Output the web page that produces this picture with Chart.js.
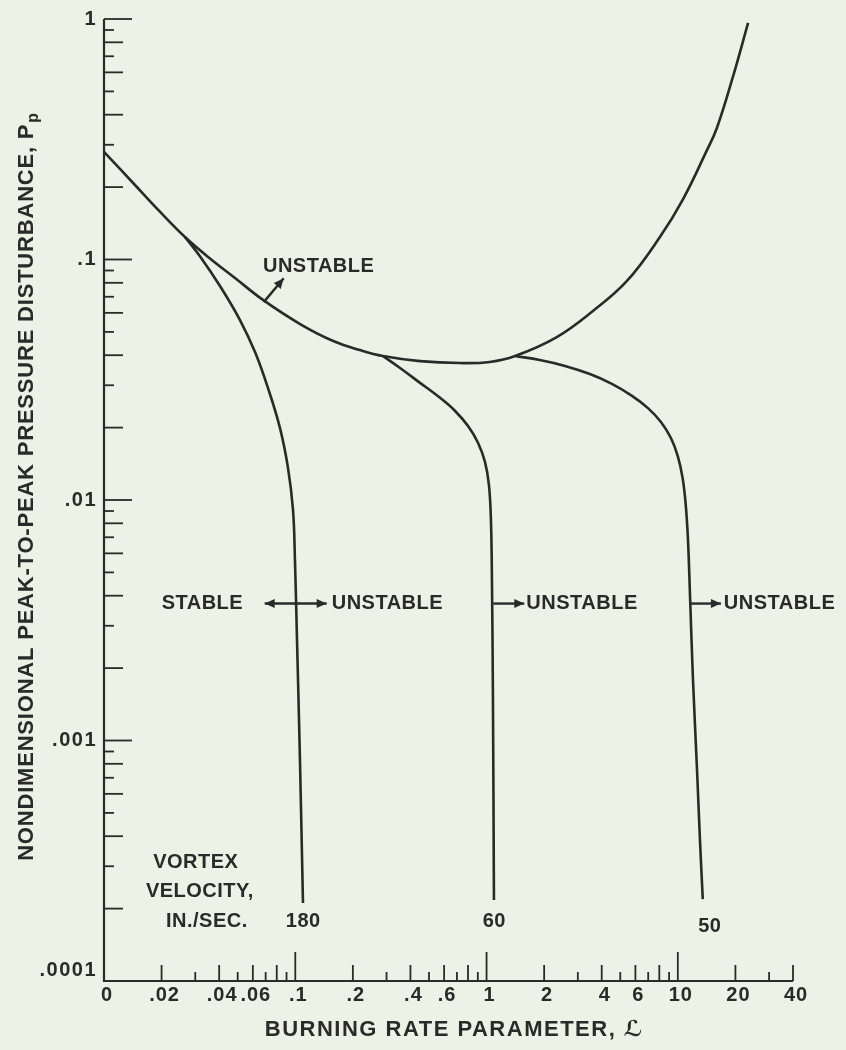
<!DOCTYPE html>
<html>
<head>
<meta charset="utf-8">
<script src="https://cdn.jsdelivr.net/npm/chart.js@4"></script>
<style>
  html, body { margin: 0; padding: 0; background: #eef1e5; }
  #wrap { width: 846px; height: 1050px; }
</style>
</head>
<body>
<div id="wrap"><canvas id="myChart"></canvas></div>
<script>
// Courbe enveloppe (limite de stabilité)
const envelopeX = [0.01, 0.0142, 0.0196, 0.0265, 0.0358, 0.0484, 0.0678, 0.106, 0.158, 0.218, 0.287, 0.449, 0.726, 1.04, 1.41, 2.33, 3.60, 5.42, 8.06, 10.6, 14.2, 16.0, 19.4, 23.3];
const envelopeY = [0.280, 0.208, 0.158, 0.124, 0.101, 0.0838, 0.0679, 0.0539, 0.0458, 0.0420, 0.0397, 0.0378, 0.0371, 0.0375, 0.0397, 0.0476, 0.0611, 0.0814, 0.124, 0.177, 0.285, 0.352, 0.574, 0.963];

// Vitesse du tourbillon 180 in./sec
const v180X = [0.0265, 0.0318, 0.0404, 0.0514, 0.0616, 0.0720, 0.0832, 0.0916, 0.0973, 0.0996, 0.1021, 0.1058, 0.1097];
const v180Y = [0.124, 0.103, 0.0776, 0.0560, 0.0412, 0.0292, 0.0199, 0.0136, 0.00909, 0.00563, 0.00262, 0.00083, 0.000211];

// 60 in./sec
const v60X = [0.287, 0.353, 0.449, 0.571, 0.683, 0.800, 0.902, 0.981, 1.029, 1.054, 1.067, 1.080, 1.093];
const v60Y = [0.0397, 0.0354, 0.0307, 0.0266, 0.0235, 0.0203, 0.0173, 0.0144, 0.01155, 0.00826, 0.00465, 0.00147, 0.000217];

// 50 in./sec
const v50X = [1.41, 1.90, 2.57, 3.47, 4.52, 5.76, 6.98, 8.16, 9.20, 10.0, 10.6, 11.0, 11.3, 11.6, 12.0, 12.6, 13.05, 13.5];
const v50Y = [0.0397, 0.0382, 0.0361, 0.0334, 0.0304, 0.0271, 0.0241, 0.0211, 0.0181, 0.0152, 0.0123, 0.00953, 0.00682, 0.00384, 0.00179, 0.000754, 0.000386, 0.000219];

// Graduations
const xTickValues = [0.01, 0.02, 0.04, 0.06, 0.1, 0.2, 0.4, 0.6, 1, 2, 4, 6, 10, 20, 40];
const xTickLabels = ["0", ".02", ".04", ".06", ".1", ".2", ".4", ".6", "1", "2", "4", "6", "10", "20", "40"];
const yTickValues = [1, 0.1, 0.01, 0.001, 0.0001];
const yTickLabels = ["1", ".1", ".01", ".001", ".0001"];

// Textes posés sur le graphique (coordonnées en données)
const notes = [
  { text: "UNSTABLE", x: 0.1325, y: 0.0937, align: "center" },
  { text: "STABLE", x: 0.0327, y: 0.00371, align: "center" },
  { text: "UNSTABLE", x: 0.155, y: 0.00371, align: "left" },
  { text: "UNSTABLE", x: 1.614, y: 0.00371, align: "left" },
  { text: "UNSTABLE", x: 17.4, y: 0.00371, align: "left" },
  { text: "VORTEX", x: 0.0302, y: 0.00031, align: "center" },
  { text: "VELOCITY,", x: 0.0317, y: 0.000235, align: "center" },
  { text: "IN./SEC.", x: 0.0345, y: 0.000176, align: "center" },
  { text: "180", x: 0.110, y: 0.000176, align: "center" },
  { text: "60", x: 1.098, y: 0.000176, align: "center" },
  { text: "50", x: 14.7, y: 0.000169, align: "center" }
];

// Flèches : [x1, y1, x2, y2, tête des deux côtés ?]
const arrows = [
  [0.0684, 0.0665, 0.087, 0.0835, false],
  [0.0692, 0.00371, 0.1459, 0.00371, true],
  [1.085, 0.00371, 1.575, 0.00371, false],
  [11.58, 0.00371, 16.8, 0.00371, false]
];

const ink = "#2a2a2a";
const fontFamily = '"Liberation Sans", "DejaVu Sans", Arial, sans-serif';

function toPoints(xs, ys) {
  return xs.map((v, i) => ({ x: v, y: ys[i] }));
}

function curve(xs, ys) {
  return {
    data: toPoints(xs, ys),
    showLine: true,
    borderColor: ink,
    borderWidth: 2.6,
    pointRadius: 0,
    tension: 0.4,
    fill: false
  };
}

function arrowHead(ctx, fromX, fromY, toX, toY) {
  const ang = Math.atan2(toY - fromY, toX - fromX);
  const len = 10, half = 4.5;
  ctx.beginPath();
  ctx.moveTo(toX, toY);
  ctx.lineTo(toX - len * Math.cos(ang) + half * Math.sin(ang), toY - len * Math.sin(ang) - half * Math.cos(ang));
  ctx.lineTo(toX - len * Math.cos(ang) - half * Math.sin(ang), toY - len * Math.sin(ang) + half * Math.cos(ang));
  ctx.closePath();
  ctx.fill();
}

const paperPlugin = {
  id: "paper",
  beforeDraw(chart) {
    const ctx = chart.ctx;
    ctx.save();
    ctx.fillStyle = "#eef1e5";
    ctx.fillRect(0, 0, chart.width, chart.height);
    ctx.restore();
  },
  afterDraw(chart) {
    const { ctx, chartArea: a, scales } = chart;
    const x = scales.x, y = scales.y;
    ctx.save();
    ctx.strokeStyle = ink;
    ctx.fillStyle = ink;

    // axes
    ctx.lineWidth = 2.2;
    ctx.beginPath();
    ctx.moveTo(a.left, a.top);
    ctx.lineTo(a.left, a.bottom);
    ctx.lineTo(x.getPixelForValue(40), a.bottom);
    ctx.stroke();

    // graduations vers l'intérieur
    ctx.lineWidth = 1.8;
    for (let e = -4; e <= 0; e++) {
      for (let m = 1; m <= 9; m++) {
        const v = m * Math.pow(10, e);
        if (v > 1.0001 || v <= 0.0001) continue;
        const len = m === 1 ? 28 : (m % 2 === 0 ? 19 : 10);
        const py = y.getPixelForValue(v);
        ctx.beginPath();
        ctx.moveTo(a.left, py);
        ctx.lineTo(a.left + len, py);
        ctx.stroke();
      }
    }
    for (let e = -2; e <= 1; e++) {
      for (let m = 1; m <= 9; m++) {
        const v = m * Math.pow(10, e);
        if (v <= 0.0101 || v > 40.01) continue;
        const len = m === 1 ? 29 : (m % 2 === 0 ? 16 : 9);
        const px = x.getPixelForValue(v);
        ctx.beginPath();
        ctx.moveTo(px, a.bottom);
        ctx.lineTo(px, a.bottom - len);
        ctx.stroke();
      }
    }

    // libellés des graduations
    ctx.font = "bold 20px " + fontFamily;
    ctx.letterSpacing = "1.5px";
    ctx.textBaseline = "middle";
    ctx.textAlign = "right";
    yTickValues.forEach((v, i) => {
      const py = y.getPixelForValue(v) - (i === yTickValues.length - 1 ? 11 : 0);
      ctx.fillText(yTickLabels[i], a.left - 7, py);
    });
    ctx.textAlign = "center";
    ctx.letterSpacing = "1px";
    xTickValues.forEach((v, i) => {
      ctx.fillText(xTickLabels[i], x.getPixelForValue(v) + 3, a.bottom + 14);
    });

    // titre de l'axe x
    ctx.font = "bold 22px " + fontFamily;
    ctx.letterSpacing = "1.5px";
    ctx.fillText("BURNING RATE PARAMETER, ℒ", (a.left + a.right) / 2 + 6, a.bottom + 49);

    // titre de l'axe y (avec indice p)
    const mainTitle = "NONDIMENSIONAL PEAK-TO-PEAK PRESSURE DISTURBANCE, P";
    ctx.font = "bold 22px " + fontFamily;
    ctx.letterSpacing = "0.8px";
    const w1 = ctx.measureText(mainTitle).width;
    ctx.font = "bold 16px " + fontFamily;
    const w2 = ctx.measureText("p").width;
    ctx.save();
    ctx.translate(27, (a.top + a.bottom) / 2 - 13 + (w1 + w2) / 2);
    ctx.rotate(-Math.PI / 2);
    ctx.textAlign = "left";
    ctx.font = "bold 22px " + fontFamily;
    ctx.fillText(mainTitle, 0, 0);
    ctx.font = "bold 16px " + fontFamily;
    ctx.fillText("p", w1 + 1, 7);
    ctx.restore();

    // annotations
    ctx.font = "bold 20px " + fontFamily;
    ctx.letterSpacing = "0.5px";
    notes.forEach(n => {
      ctx.textAlign = n.align;
      ctx.fillText(n.text, x.getPixelForValue(n.x), y.getPixelForValue(n.y));
    });

    // flèches
    ctx.letterSpacing = "0px";
    ctx.lineWidth = 2.4;
    arrows.forEach(([x1, y1, x2, y2, both]) => {
      const p1x = x.getPixelForValue(x1), p1y = y.getPixelForValue(y1);
      const p2x = x.getPixelForValue(x2), p2y = y.getPixelForValue(y2);
      ctx.beginPath();
      ctx.moveTo(p1x, p1y);
      ctx.lineTo(p2x, p2y);
      ctx.stroke();
      arrowHead(ctx, p1x, p1y, p2x, p2y);
      if (both) arrowHead(ctx, p2x, p2y, p1x, p1y);
    });

    ctx.restore();
  }
};

const ctx = document.getElementById("myChart");

new Chart(ctx, {
  type: "scatter",
  data: {
    datasets: [
      curve(envelopeX, envelopeY),
      curve(v180X, v180Y),
      curve(v60X, v60Y),
      curve(v50X, v50Y)
    ]
  },
  options: {
    responsive: true,
    maintainAspectRatio: false,
    animation: false,
    layout: { padding: { left: 104, right: 53, top: 19, bottom: 69 } },
    plugins: {
      legend: { display: false },
      tooltip: { enabled: false }
    },
    scales: {
      x: { type: "logarithmic", min: 0.01, max: 40, display: false },
      y: { type: "logarithmic", min: 0.0001, max: 1, display: false }
    }
  },
  plugins: [paperPlugin]
});
</script>
</body>
</html>
